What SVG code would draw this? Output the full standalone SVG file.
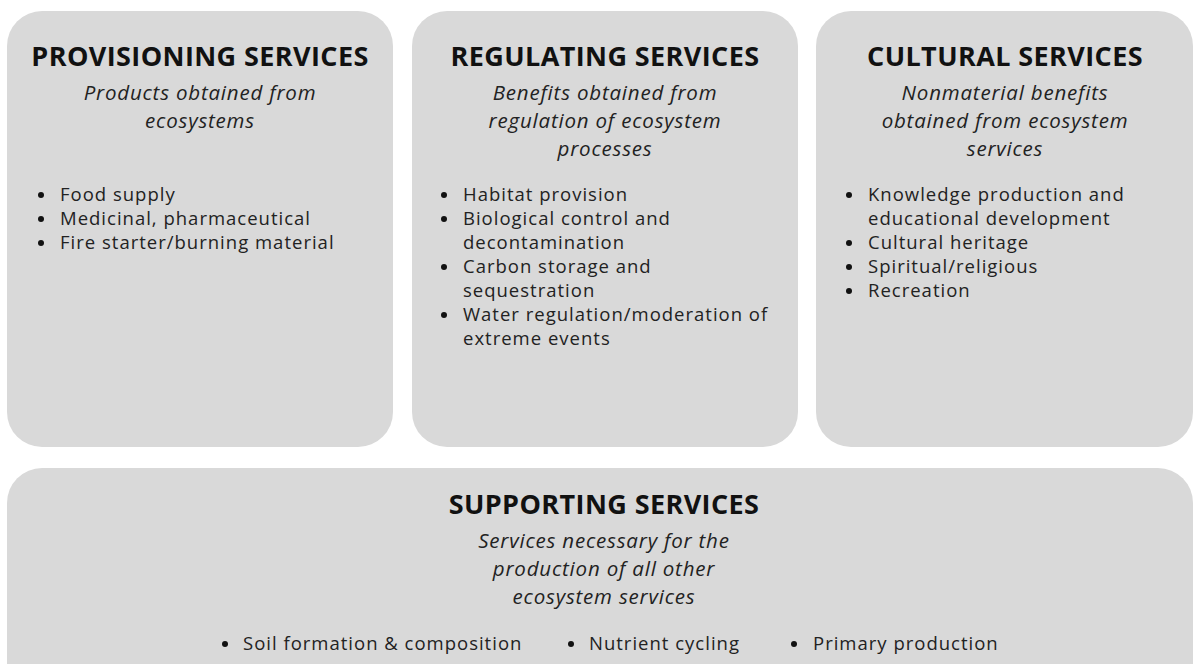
<svg xmlns="http://www.w3.org/2000/svg" width="1195" height="664" viewBox="0 0 1195 664">
  <style>
    .card { fill: #d9d9d9; }
    .title { font-family: "Open Sans", "Liberation Sans", sans-serif; font-weight: 700; font-size: 27px; letter-spacing: 0.4px; fill: #111; text-anchor: middle; }
    .sub { font-family: "Open Sans", "Liberation Sans", sans-serif; font-style: italic; font-size: 20.5px; letter-spacing: 0.8px; fill: #222; text-anchor: middle; }
    .item { font-family: "Open Sans", "Liberation Sans", sans-serif; font-size: 18.5px; letter-spacing: 1px; fill: #222; }
    .dot { fill: #111; }
  </style>
  <rect width="1195" height="664" fill="#ffffff"/>

  <g id="provisioning">
    <rect class="card" x="7" y="11" width="386" height="436" rx="35"/>
    <text class="title" x="200" y="66">PROVISIONING SERVICES</text>
    <text class="sub" x="200" y="100">Products obtained from</text>
    <text class="sub" x="200" y="128">ecosystems</text>
    <circle class="dot" cx="41" cy="195" r="3"/>
    <text class="item" x="60" y="201">Food supply</text>
    <circle class="dot" cx="41" cy="219" r="3"/>
    <text class="item" x="60" y="225">Medicinal, pharmaceutical</text>
    <circle class="dot" cx="41" cy="243" r="3"/>
    <text class="item" x="60" y="249">Fire starter/burning material</text>
  </g>

  <g id="regulating">
    <rect class="card" x="412" y="11" width="386" height="436" rx="35"/>
    <text class="title" x="605" y="66">REGULATING SERVICES</text>
    <text class="sub" x="605" y="100">Benefits obtained from</text>
    <text class="sub" x="605" y="128">regulation of ecosystem</text>
    <text class="sub" x="605" y="156">processes</text>
    <circle class="dot" cx="444" cy="195" r="3"/>
    <text class="item" x="463" y="201">Habitat provision</text>
    <circle class="dot" cx="444" cy="219" r="3"/>
    <text class="item" x="463" y="225">Biological control and</text>
    <text class="item" x="463" y="249">decontamination</text>
    <circle class="dot" cx="444" cy="267" r="3"/>
    <text class="item" x="463" y="273">Carbon storage and</text>
    <text class="item" x="463" y="297">sequestration</text>
    <circle class="dot" cx="444" cy="315" r="3"/>
    <text class="item" x="463" y="321">Water regulation/moderation of</text>
    <text class="item" x="463" y="345">extreme events</text>
  </g>

  <g id="cultural">
    <rect class="card" x="816" y="11" width="377" height="436" rx="35"/>
    <text class="title" x="1005" y="66">CULTURAL SERVICES</text>
    <text class="sub" x="1005" y="100">Nonmaterial benefits</text>
    <text class="sub" x="1005" y="128">obtained from ecosystem</text>
    <text class="sub" x="1005" y="156">services</text>
    <circle class="dot" cx="849" cy="195" r="3"/>
    <text class="item" x="868" y="201">Knowledge production and</text>
    <text class="item" x="868" y="225">educational development</text>
    <circle class="dot" cx="849" cy="243" r="3"/>
    <text class="item" x="868" y="249">Cultural heritage</text>
    <circle class="dot" cx="849" cy="267" r="3"/>
    <text class="item" x="868" y="273">Spiritual/religious</text>
    <circle class="dot" cx="849" cy="291" r="3"/>
    <text class="item" x="868" y="297">Recreation</text>
  </g>

  <g id="supporting">
    <rect class="card" x="7" y="468" width="1186" height="240" rx="35"/>
    <text class="title" x="604" y="514">SUPPORTING SERVICES</text>
    <text class="sub" x="604" y="548">Services necessary for the</text>
    <text class="sub" x="604" y="576">production of all other</text>
    <text class="sub" x="604" y="604">ecosystem services</text>
    <circle class="dot" cx="225" cy="644" r="3"/>
    <text class="item" x="243" y="650">Soil formation &amp; composition</text>
    <circle class="dot" cx="571" cy="644" r="3"/>
    <text class="item" x="589" y="650">Nutrient cycling</text>
    <circle class="dot" cx="794" cy="644" r="3"/>
    <text class="item" x="813" y="650">Primary production</text>
  </g>

  <g id="connectors"/>
</svg>
